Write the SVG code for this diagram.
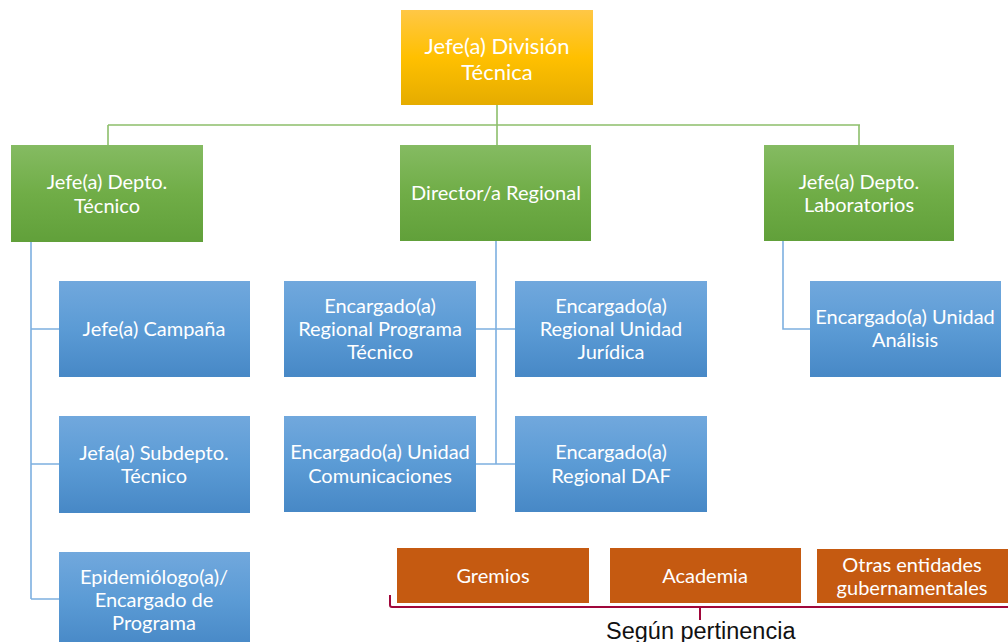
<svg xmlns="http://www.w3.org/2000/svg" width="1008" height="642" viewBox="0 0 1008 642">
<defs>
<linearGradient id="gGold" x1="0" y1="0" x2="0" y2="1">
<stop offset="0" stop-color="#FFC746"/><stop offset="0.5" stop-color="#FFC000"/><stop offset="1" stop-color="#E5AC00"/>
</linearGradient>
<linearGradient id="gGreen" x1="0" y1="0" x2="0" y2="1">
<stop offset="0" stop-color="#85BB62"/><stop offset="0.5" stop-color="#70AD47"/><stop offset="1" stop-color="#61A03A"/>
</linearGradient>
<linearGradient id="gBlue" x1="0" y1="0" x2="0" y2="1">
<stop offset="0" stop-color="#71A8DD"/><stop offset="0.5" stop-color="#5B9BD5"/><stop offset="1" stop-color="#4788C6"/>
</linearGradient>
</defs>
<style>
.t{font-family:Lato,"Noto Sans",sans-serif;font-size:20px;fill:#FFFFFF;text-anchor:middle}
.big{font-size:22px}
.gold{fill:url(#gGold)}
.green{fill:url(#gGreen)}
.blue{fill:url(#gBlue)}
.orange{fill:#C55A11}
.lg{stroke:#8DBF6B;stroke-width:1.6;fill:none}
.lb{stroke:#7DB0E0;stroke-width:1.6;fill:none}
.brace{stroke:#A0073A;stroke-width:2;fill:none}
.note{font-family:"Liberation Sans",Arial,sans-serif;font-size:23.5px;fill:#111111}
</style>
<rect width="1008" height="642" fill="#FFFFFF"/>
<g id="connectors">
<path class="lg" d="M497,105V125M108,125H860M108,125V145M497,125V145M859,125V145"/>
<path class="lb" d="M31,242V599M31,329H59M31,464H59M31,599H59"/>
<path class="lb" d="M496,241V464M476,329H515M476,464H515"/>
<path class="lb" d="M783,241V329H810"/>
</g>
<g id="n-jefe-division"><rect class="gold" x="401" y="10" width="192" height="95"/><text class="t big" x="497" y="54">Jefe(a) División</text><text class="t big" x="497" y="80">Técnica</text></g>
<g id="n-depto-tecnico"><rect class="green" x="11" y="145" width="192" height="97"/><text class="t" x="107" y="189">Jefe(a) Depto.</text><text class="t" x="107" y="213">Técnico</text></g>
<g id="n-director-regional"><rect class="green" x="400" y="145" width="191" height="96"/><text class="t" x="496" y="200">Director/a Regional</text></g>
<g id="n-depto-laboratorios"><rect class="green" x="764" y="145" width="190" height="96"/><text class="t" x="859" y="189">Jefe(a) Depto.</text><text class="t" x="859" y="212">Laboratorios</text></g>
<g id="n-campana"><rect class="blue" x="59" y="281" width="191" height="96"/><text class="t" x="154" y="336">Jefe(a) Campaña</text></g>
<g id="n-subdepto"><rect class="blue" x="59" y="416" width="191" height="97"/><text class="t" x="154" y="460">Jefa(a) Subdepto.</text><text class="t" x="154" y="483">Técnico</text></g>
<g id="n-epidemiologo"><rect class="blue" x="59" y="552" width="191" height="96"/><text class="t" x="154" y="584">Epidemiólogo(a)/</text><text class="t" x="154" y="607">Encargado de</text><text class="t" x="154" y="630">Programa</text></g>
<g id="n-programa-tecnico"><rect class="blue" x="284" y="281" width="192" height="96"/><text class="t" x="380" y="313">Encargado(a)</text><text class="t" x="380" y="336">Regional Programa</text><text class="t" x="380" y="359">Técnico</text></g>
<g id="n-unidad-juridica"><rect class="blue" x="515" y="281" width="192" height="96"/><text class="t" x="611" y="313">Encargado(a)</text><text class="t" x="611" y="336">Regional Unidad</text><text class="t" x="611" y="359">Jurídica</text></g>
<g id="n-comunicaciones"><rect class="blue" x="284" y="416" width="192" height="96"/><text class="t" x="380" y="459">Encargado(a) Unidad</text><text class="t" x="380" y="483">Comunicaciones</text></g>
<g id="n-daf"><rect class="blue" x="515" y="416" width="192" height="96"/><text class="t" x="611" y="459">Encargado(a)</text><text class="t" x="611" y="483">Regional DAF</text></g>
<g id="n-analisis"><rect class="blue" x="810" y="281" width="191" height="96"/><text class="t" x="905" y="324">Encargado(a) Unidad</text><text class="t" x="905" y="347">Análisis</text></g>
<g id="n-gremios"><rect class="orange" x="397" y="548" width="192" height="55"/><text class="t" x="493" y="583">Gremios</text></g>
<g id="n-academia"><rect class="orange" x="610" y="548" width="191" height="55"/><text class="t" x="705" y="583">Academia</text></g>
<g id="n-otras"><rect class="orange" x="817" y="549" width="191" height="54"/><text class="t" x="912" y="572">Otras entidades</text><text class="t" x="912" y="595">gubernamentales</text></g>
<g id="brace-pertinencia">
<path class="brace" d="M390,595V605Q390,607 392,607H1008M700,607V620"/>
<text class="note" x="606" y="639">Según pertinencia</text>
</g>
</svg>
